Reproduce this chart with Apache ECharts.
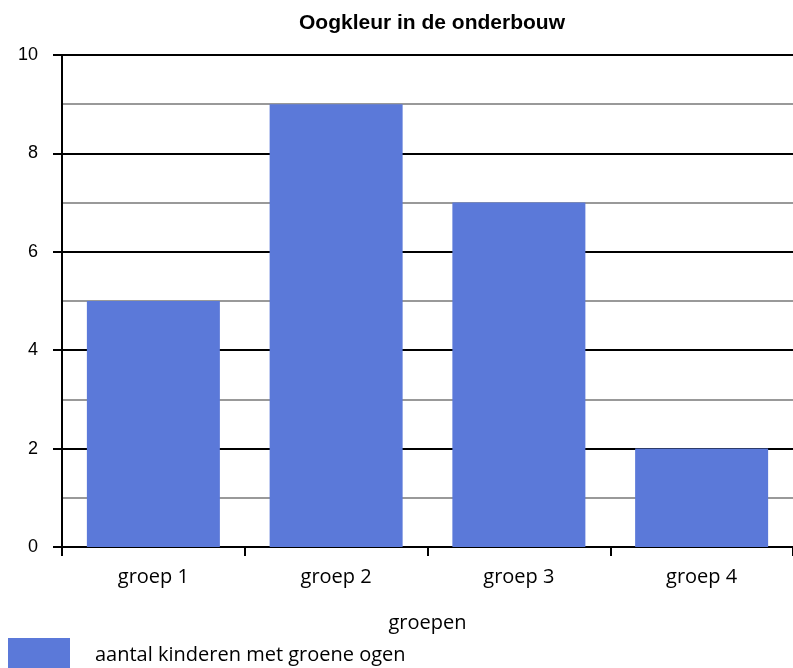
<!DOCTYPE html>
<html>
<head>
<meta charset="utf-8">
<script src="https://cdn.jsdelivr.net/npm/echarts@6/dist/echarts.min.js"></script>
<style>
  html, body { margin: 0; padding: 0; background: #fff; }
  #chart { width: 793px; height: 668px; }
</style>
</head>
<body>
<div id="chart"></div>
<script>
  // categories and values
  var groepen = ['groep 1', 'groep 2', 'groep 3', 'groep 4'];
  var groeneOgen = [5, 9, 7, 2];
  var seriesName = 'aantal kinderen met groene ogen';

  var myChart = echarts.init(document.getElementById('chart'));
  var option = {
    backgroundColor: '#fff',
    animation: false,
    title: {
      text: 'Oogkleur in de onderbouw',
      left: 427,
      textAlign: 'center',
      top: 8,
      textStyle: {
        fontFamily: 'Liberation Sans',
        fontWeight: 'bold',
        fontSize: 21,
        color: '#000'
      }
    },
    legend: {
      left: 8,
      top: 635,
      padding: 0,
      itemWidth: 62,
      itemHeight: 34,
      icon: 'rect',
      textStyle: {
        fontFamily: 'Open Sans',
        fontSize: 20,
        color: '#000',
        lineHeight: 20,
        padding: [20, 0, 0, 20]
      },
      data: [seriesName]
    },
    grid: {
      left: 62,
      top: 55,
      width: 735,
      bottom: 121
    },
    xAxis: {
      type: 'category',
      data: groepen,
      name: 'groepen',
      nameLocation: 'middle',
      nameGap: 66,
      nameTextStyle: {
        fontFamily: 'Open Sans',
        fontSize: 20,
        color: '#000'
      },
      axisLine: { lineStyle: { color: '#000', width: 2 } },
      axisTick: { show: true, length: 9, lineStyle: { color: '#000', width: 2 } },
      axisLabel: {
        margin: 20,
        fontFamily: 'Open Sans',
        fontSize: 20,
        color: '#000'
      }
    },
    yAxis: {
      type: 'value',
      min: 0,
      max: 10,
      interval: 2,
      axisLine: { show: true, lineStyle: { color: '#000', width: 2 } },
      axisTick: { show: true, length: 9, lineStyle: { color: '#000', width: 2 } },
      axisLabel: {
        margin: 24,
        fontFamily: 'Liberation Sans',
        fontSize: 18,
        color: '#000'
      },
      splitLine: { show: true, lineStyle: { color: '#000', width: 2 } },
      minorTick: { show: false, splitNumber: 2 },
      minorSplitLine: { show: true, lineStyle: { color: '#999', width: 2 } }
    },
    series: [{
      name: seriesName,
      type: 'bar',
      data: groeneOgen,
      barWidth: 133,
      itemStyle: { color: '#5b79d9' }
    }]
  };
  myChart.setOption(option);
</script>
</body>
</html>
